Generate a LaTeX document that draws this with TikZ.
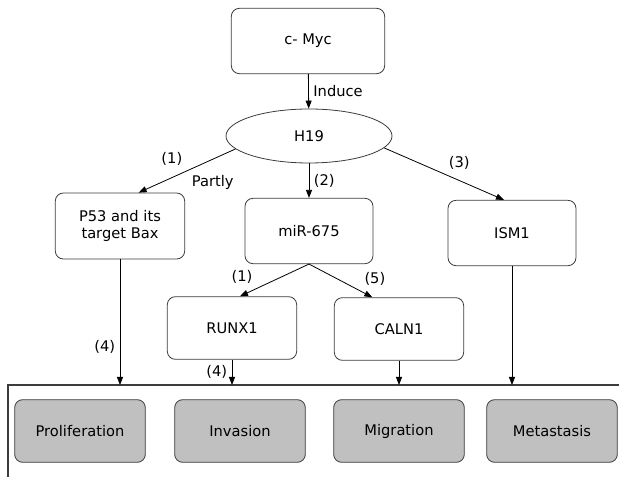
\documentclass[tikz,border=0pt]{standalone}
\usepackage{fontspec}
\setmainfont{DejaVu Sans}
\usepackage{tikz}
\usepackage{xcolor}
\usetikzlibrary{positioning,arrows.meta,shapes.geometric}
\definecolor{BoxLine}{HTML}{3C3C3C}
\definecolor{OutFill}{HTML}{C0C0C0}

\begin{document}
\begin{tikzpicture}[x=0.75pt,y=-0.75pt,
          font=\fontsize{11}{13}\selectfont,
          box/.style={draw=BoxLine,line width=0.6pt,rounded corners=6pt,fill=white,
                      minimum width=97pt,minimum height=48pt,
                      align=center,inner sep=1pt},
          outbox/.style={box,fill=OutFill,minimum width=98pt,minimum height=47pt},
          ar/.style={-{Triangle[length=6pt,width=4.5pt]},line width=0.6pt,black}]
        \useasboundingbox (0,0) rectangle (619,477);
        % top of the chain
        \node[box,minimum width=115pt,minimum height=49pt] (cmyc) at (308,41) {c- Myc};
        \node[draw=BoxLine,line width=0.6pt,ellipse,inner sep=0pt,minimum width=124.5pt,
              minimum height=40.5pt] (h19) at (309,136) {H19};
        \node[box,minimum height=49.5pt] (p53) at (120,226) {P53 and its\\target Bax};
        \node[box,minimum width=96pt,minimum height=49pt] (mir) at (309,231) {miR-675};
        \node[box,minimum width=96pt,minimum height=49pt] (ism) at (512,233) {ISM1};
        \node[box,minimum height=47pt] (runx) at (232,328) {RUNX1};
        \node[box,minimum height=47pt] (caln) at (399,329) {CALN1};
        % outcomes
        \coordinate (barW) at (8,385);
        \coordinate (barE) at (619,385);
        \draw[BoxLine,line width=1pt] (barE) -- (barW) -- (8,477);
        \node[outbox] (prol) at (80,431) {Proliferation};
        \node[outbox] (inva) at (240,431) {Invasion};
        \node[outbox] (migr) at (399,431) {Migration};
        \node[outbox] (meta) at (552,431) {Metastasis};
        % links
        \draw[ar] (cmyc) -- node[right]{Induce} (h19);
        \draw[ar] (h19.190) -- node[above left]{(1)} node[below right]{Partly}
            ([xshift=14pt]p53.north);
        \draw[ar] (h19.south) -- node[right]{(2)} (mir.north);
        \draw[ar] (h19.-9) -- node[above right]{(3)} ([xshift=-6pt]ism.north);
        \draw[ar] (mir.south) -- node[pos=.75,above left]{(1)} ([xshift=6pt]runx.north);
        \draw[ar] (mir.south) -- node[pos=.8,above right]{(5)} ([xshift=-20pt]caln.north);
        \draw[ar] (p53.south) -- node[pos=.7,left]{(4)} (p53.south |- barW);
        \draw[ar] (runx.south) -- node[left]{(4)} (runx.south |- barW);
        \draw[ar] (caln.south) -- (caln.south |- barW);
        \draw[ar] (ism.south) -- (ism.south |- barW);
      \end{tikzpicture}
\end{document}
